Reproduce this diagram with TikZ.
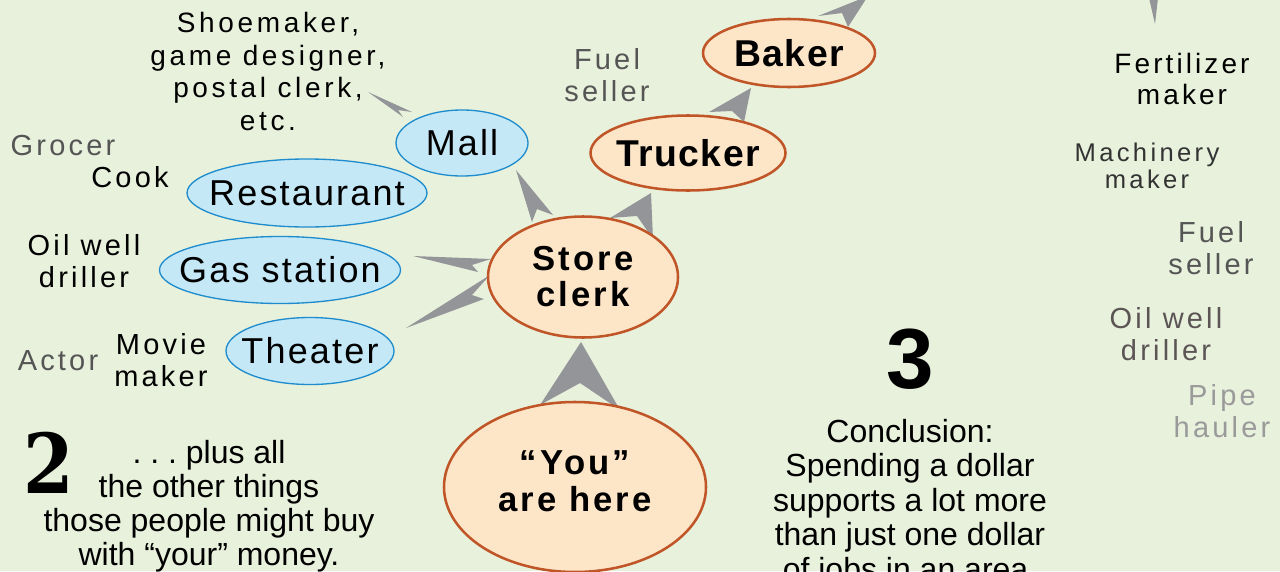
\documentclass[tikz,border=0pt]{standalone}
\usepackage{fontspec}
\setmainfont{Liberation Sans}
\newfontfamily\smallfont[LetterSpace=11]{Liberation Sans}
\newfontfamily\shoefont[LetterSpace=13]{Liberation Sans}
\newfontfamily\bluefont[LetterSpace=6]{Liberation Sans}
\newfontfamily\orfontA[LetterSpace=9]{Liberation Sans}
\newfontfamily\orfontB[LetterSpace=4]{Liberation Sans}
\newfontfamily\twofont{DejaVu Serif}
\usetikzlibrary{shapes.geometric}
\definecolor{bg}{HTML}{E8F1DC}
\definecolor{bluefill}{HTML}{C5E8F7}
\definecolor{blueline}{HTML}{1E8CCD}
\definecolor{orfill}{HTML}{FDE5C8}
\definecolor{orline}{HTML}{C05628}
\definecolor{arrowgray}{HTML}{939598}
\definecolor{gtext}{HTML}{555555}
\definecolor{dtext}{HTML}{333333}
\definecolor{otext}{HTML}{5C5555}
\definecolor{ltext}{HTML}{9A9A9A}
\tikzset{
  blueell/.style={ellipse, draw=blueline, fill=bluefill, line width=1pt, inner sep=0pt,
    font=\bluefont\fontsize{27}{30}\selectfont},
  orell/.style={ellipse, draw=orline, fill=orfill, line width=1.9pt, inner sep=0pt, align=center},
  lbl/.style={inner sep=0pt, align=center, font=\smallfont\fontsize{21.75}{24}\selectfont},
  para/.style={inner sep=0pt, align=center},
  swoosh/.style={fill=arrowgray}
}
\begin{document}
\begin{tikzpicture}[x=0.75pt,y=-0.75pt]
\useasboundingbox (0,0) rectangle (1280,571);
\fill[bg] (0,0) rectangle (1280,571);
\begin{scope}
\clip (0,0) rectangle (1280,571);
% connectors (swoosh arrows)
\fill[swoosh] (581,342) -- (540,405) -- (580,383) -- (620,410) -- cycle; % you -> store
\fill[swoosh] (413,256) -- (491,259) -- (472,265) -- (478,272) -- cycle; % store -> gas
\fill[swoosh] (406,328) -- (490,275) -- (472,295) -- (484,299) -- cycle; % store -> theater
\fill[swoosh] (516,170) -- (532,222) -- (537,209) -- (553,215) -- cycle; % store -> mall
\fill[swoosh] (651,193) -- (610,218) -- (637,216) -- (653,239) -- cycle; % store -> trucker
\fill[swoosh] (751,88) -- (709,112) -- (732,111) -- (744,122) -- cycle; % trucker -> baker
\fill[swoosh] (868,-4) -- (818,16) -- (842,13) -- (848,27) -- cycle; % baker -> beyond
\fill[swoosh] (368,92) -- (412,112) -- (398,110) -- (403,117) -- cycle; % mall -> shoemaker
\fill[swoosh] (1149,-2) -- (1158,-2) -- (1155,24) -- cycle;

% ellipses
\node[blueell, minimum width=99pt, minimum height=49.5pt] (mall) at (462,143) {\makebox[0pt]{Mall}};
\node[blueell, minimum width=180pt, minimum height=51pt] (restaurant) at (307,193) {\makebox[0pt]{Restaurant}};
\node[blueell, minimum width=180.75pt, minimum height=50.25pt] (gas) at (280,270) {\makebox[0pt]{Gas station}};
\node[blueell, minimum width=126pt, minimum height=50.25pt] (theater) at (310,351) {\makebox[0pt]{Theater}};
\node[orell, minimum width=142.5pt, minimum height=90.75pt,
  font=\orfontA\bfseries\fontsize{26}{27}\selectfont] (store) at (583,277) {Store\\clerk};
\node[orell, minimum width=146.25pt, minimum height=56.25pt,
  font=\orfontB\bfseries\fontsize{28}{30}\selectfont] (trucker) at (688,153) {\makebox[0pt]{Trucker}};
\node[orell, minimum width=129pt, minimum height=51pt,
  font=\orfontB\bfseries\fontsize{28}{30}\selectfont] (baker) at (789,53) {\makebox[0pt]{Baker}};
\node[orell, minimum width=196.5pt, minimum height=127.5pt] (you) at (575,487) {};
\node[para, font=\orfontA\bfseries\fontsize{26}{27.75}\selectfont] (youtext) at (575,481) {“You”\\are here};

% labels
\node[para, font=\shoefont\fontsize{21}{24.4}\selectfont] (shoe) at (268,71.5) {Shoemaker,\\game designer,\\postal clerk,\\etc.};
\node[lbl, text=gtext] (grocer) at (63,146) {Grocer};
\node[lbl] (cook) at (130,177.5) {Cook};
\node[lbl] (oilL) at (84,261.5) {Oil well\\driller};
\node[lbl, text=gtext] (actor) at (58,361) {Actor};
\node[lbl] (movie) at (161,360) {Movie\\maker};
\node[lbl, text=gtext] (fuelT) at (607,75.5) {Fuel\\seller};

\node[lbl, font=\smallfont\fontsize{21}{23}\selectfont] (fert) at (1182,79) {Fertilizer\\maker};
\node[lbl, text=dtext, font=\shoefont\fontsize{19.2}{20.25}\selectfont] (mach) at (1147,166) {Machinery\\maker};
\node[lbl, text=gtext] (fuelR) at (1211,248) {Fuel\\seller};
\node[lbl, text=otext] (oilR) at (1166,334) {Oil well\\driller};
\node[lbl, text=ltext] (pipe) at (1222,411) {Pipe\\hauler};

% numbers and paragraphs
\node[inner sep=0pt, xscale=0.88, font=\twofont\bfseries\fontsize{62}{62}\selectfont] (two) at (49,463) {2};
\node[inner sep=0pt, font=\bfseries\fontsize{64}{64}\selectfont] (three) at (910,359) {3};
\node[para, font=\fontsize{24}{25.5}\selectfont] (plus) at (209,506) {.\ .\ .\ plus all\\the other things\\those people might buy\\with “your” money.};
\node[para, font=\fontsize{24}{25.9}\selectfont] (concl) at (910,503) {Conclusion:\\Spending a dollar\\supports a lot more\\than just one dollar\\of jobs in an area.};
\end{scope}
\end{tikzpicture}
\end{document}
